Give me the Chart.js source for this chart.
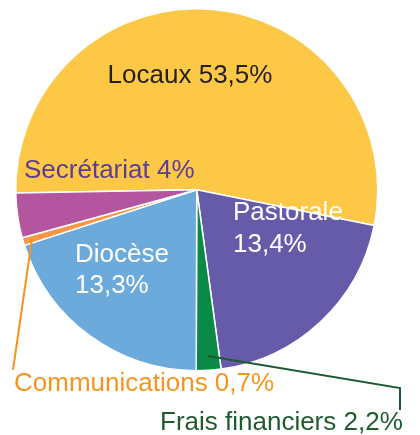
<!DOCTYPE html>
<html>
<head>
<meta charset="utf-8">
<script src="https://cdn.jsdelivr.net/npm/chart.js@4/dist/chart.umd.min.js"></script>
<style>
  html, body { margin: 0; padding: 0; background: #ffffff; }
  canvas { display: block; }
</style>
</head>
<body>
<canvas id="c" width="420" height="435"></canvas>
<script>
// Categories (clockwise from the left edge, over the top)
const categories = ["Locaux", "Pastorale", "Frais financiers", "Diocèse", "Communications", "Secrétariat"];
// Slice sizes as drawn in the picture (percent of the circle)
const sliceValues = [53.5, 19.7, 2.2, 20.0, 0.7, 4.0];
// Percent texts printed on the chart
const percentLabels = ["53,5%", "13,4%", "2,2%", "13,3%", "0,7%", "4%"];
const sliceColors = ["#FDC845", "#665BA8", "#0B8A47", "#6BAADB", "#F79646", "#B3569F"];

// Label layout (annotation positions, text baselines)
const labelLayout = [
  { lines: [0], x: 190, y: [83], align: "center", color: "#231F20", joined: true },
  { lines: [1], x: 233, y: [220, 252], align: "left", color: "#FFFFFF", joined: false },
  { lines: [2], x: 160, y: [430], align: "left", color: "#1E5C2E", joined: true,
    leader: { frac: 0.92, path: [[400, 388], [400, 410]], color: "#1A5C30" } },
  { lines: [3], x: 75, y: [262, 293], align: "left", color: "#FFFFFF", joined: false },
  { lines: [4], x: 14, y: [391], align: "left", color: "#F7941E", joined: true,
    leader: { frac: 0.95, path: [[13, 370]], color: "#F7941E" } },
  { lines: [5], x: 24, y: [178], align: "left", color: "#5C3D96", joined: true }
];

const labelPlugin = {
  id: "sliceLabels",
  afterDatasetsDraw(chart) {
    const ctx = chart.ctx;
    const meta = chart.getDatasetMeta(0);
    ctx.save();
    labelLayout.forEach((lay, i) => {
      const arc = meta.data[i];
      if (lay.leader) {
        const mid = (arc.startAngle + arc.endAngle) / 2;
        const r = arc.outerRadius * lay.leader.frac;
        const sx = arc.x + Math.cos(mid) * r;
        const sy = arc.y + Math.sin(mid) * r;
        ctx.beginPath();
        ctx.moveTo(sx, sy);
        lay.leader.path.forEach(p => ctx.lineTo(p[0], p[1]));
        ctx.strokeStyle = lay.leader.color;
        ctx.lineWidth = 2;
        ctx.lineJoin = "miter";
        ctx.stroke();
      }
      ctx.font = "26px 'Liberation Sans', Arial, sans-serif";
      ctx.fillStyle = lay.color;
      ctx.textAlign = lay.align;
      ctx.textBaseline = "alphabetic";
      if (lay.joined) {
        ctx.fillText(categories[i] + " " + percentLabels[i], lay.x, lay.y[0]);
      } else {
        ctx.fillText(categories[i], lay.x, lay.y[0]);
        ctx.fillText(percentLabels[i], lay.x, lay.y[1]);
      }
    });
    ctx.restore();
  }
};

new Chart(document.getElementById("c"), {
  type: "pie",
  data: {
    labels: categories,
    datasets: [{
      data: sliceValues,
      backgroundColor: sliceColors,
      borderColor: "#FFFFFF",
      borderWidth: 1.5
    }]
  },
  options: {
    responsive: false,
    animation: false,
    rotation: -91,
    layout: { padding: { left: 15, top: 8, right: 41.5, bottom: 63.5 } },
    plugins: {
      legend: { display: false },
      tooltip: { enabled: false }
    }
  },
  plugins: [labelPlugin]
});
</script>
</body>
</html>
